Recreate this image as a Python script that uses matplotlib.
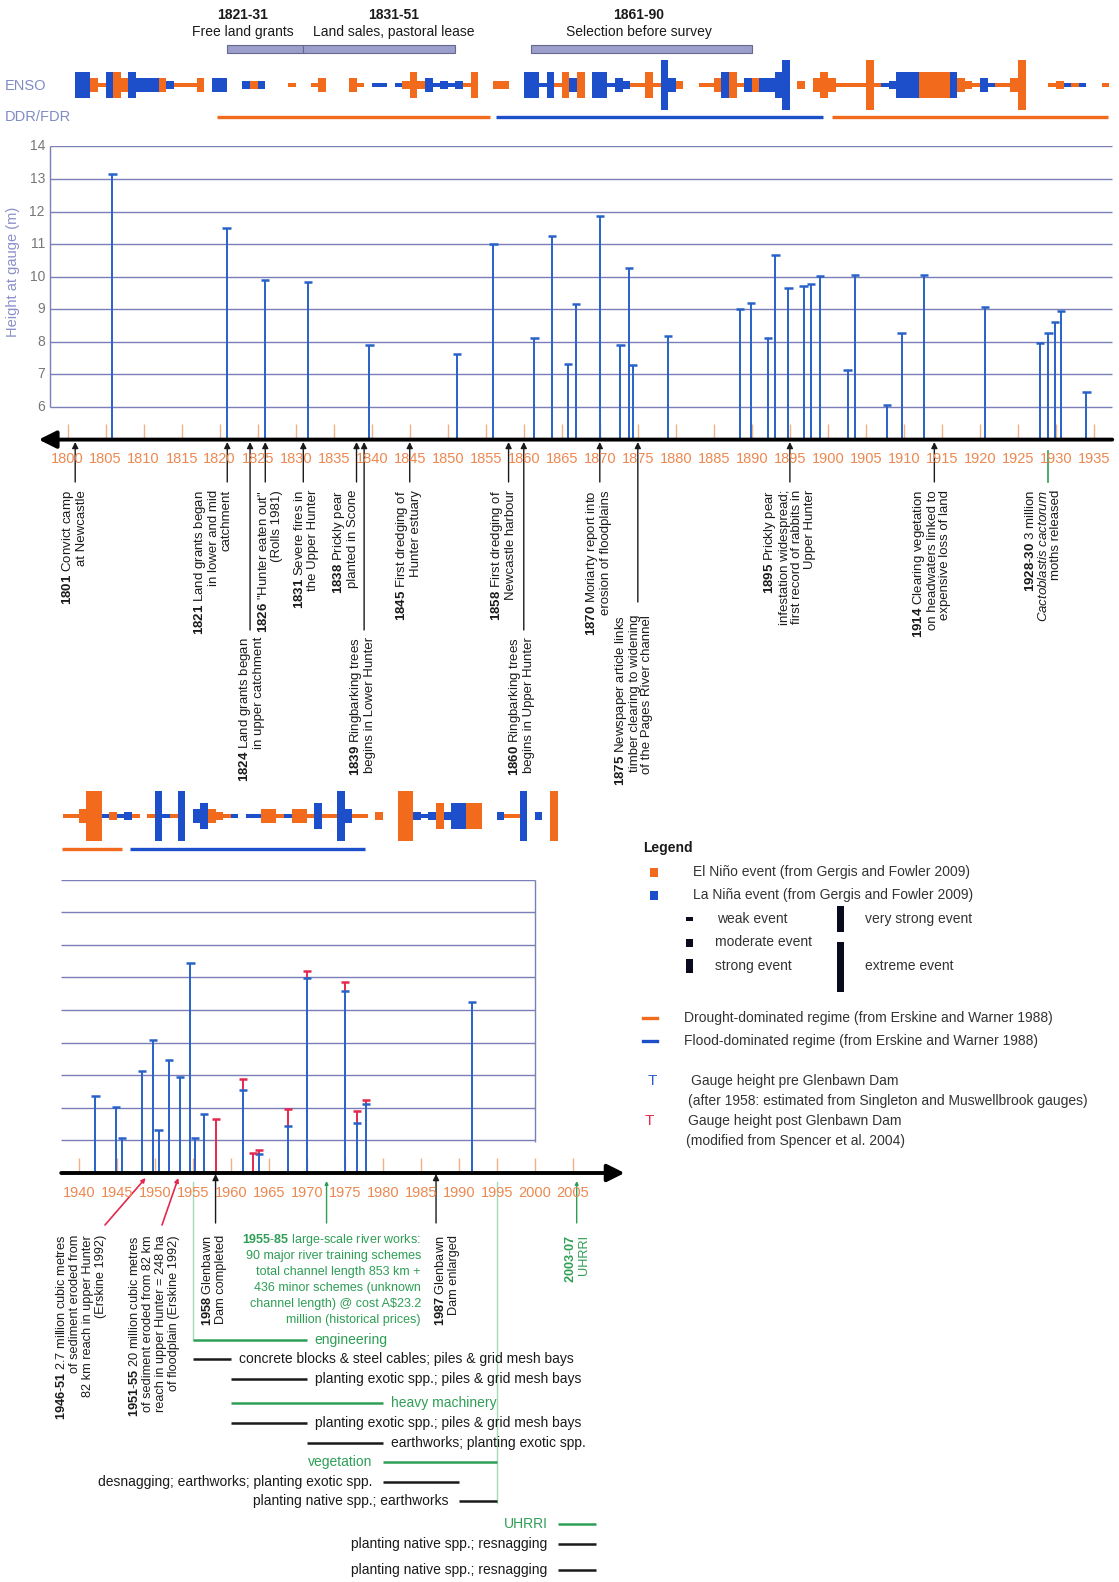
import numpy as np
import matplotlib
matplotlib.use('Agg')
import matplotlib.pyplot as plt
import matplotlib.transforms as mtransforms
from matplotlib.patches import Rectangle

plt.rcParams['font.family'] = ['Liberation Sans', 'DejaVu Sans']
plt.rcParams['mathtext.fontset'] = 'custom'
plt.rcParams['mathtext.rm'] = 'Liberation Sans'
plt.rcParams['mathtext.bf'] = 'Liberation Sans:bold'
plt.rcParams['mathtext.it'] = 'Liberation Sans:italic'

# ---------------- data ----------------
# ENSO events 1800-1937 (E = El Nino, L = La Nina; 1 weak .. 5 extreme)
enso_top_years = [1801, 1802, 1803, 1804, 1805, 1806, 1807, 1808, 1809, 1810, 1811, 1812, 1813,
                  1814, 1815, 1816, 1817, 1819, 1820, 1823, 1824, 1825, 1829, 1832, 1833, 1837,
                  1838, 1840, 1841, 1843, 1844, 1845, 1846, 1847, 1848, 1849, 1850, 1851, 1852,
                  1853, 1856, 1857, 1860, 1861, 1862, 1863, 1864, 1865, 1866, 1867, 1869, 1870,
                  1871, 1872, 1873, 1874, 1875, 1876, 1877, 1878, 1879, 1880, 1883, 1884, 1885,
                  1886, 1887, 1888, 1889, 1890, 1891, 1892, 1893, 1894, 1896, 1898, 1899, 1900,
                  1901, 1902, 1903, 1904, 1905, 1906, 1907, 1908, 1909, 1910, 1911, 1912, 1913,
                  1914, 1915, 1916, 1917, 1918, 1919, 1920, 1921, 1922, 1923, 1924, 1925, 1929,
                  1930, 1931, 1932, 1933, 1936]
enso_top_phase = list('LLEELEELLLLEL'
                      'EEEELLLELEEEE'
                      'ELLLEEELLLLLE'
                      'EEELLLLEELELL'
                      'LLLEEEELLEEEE'
                      'LEELELLLLEEEE'
                      'EEEEEELLLLLEE'
                      'EELEEELLEEEEE'
                      'ELELE')
enso_top_strength = [4, 4, 3, 1, 4, 4, 3, 4, 3, 3, 3, 3, 2,
                     1, 1, 1, 3, 3, 3, 2, 2, 2, 1, 1, 3, 3,
                     1, 1, 1, 1, 2, 4, 2, 3, 1, 2, 1, 2, 1,
                     4, 2, 2, 4, 4, 1, 4, 1, 4, 3, 4, 4, 4,
                     1, 3, 2, 1, 1, 4, 1, 5, 3, 2, 1, 1, 3,
                     4, 4, 1, 3, 3, 3, 3, 4, 5, 2, 3, 4, 3,
                     1, 1, 1, 1, 5, 1, 1, 2, 4, 4, 4, 4, 4,
                     4, 4, 4, 3, 2, 1, 3, 1, 1, 1, 3, 5, 1,
                     2, 1, 1, 1, 1]

# ENSO events 1938-2002
enso_bot_years = [1938, 1939, 1940, 1941, 1942, 1943, 1944, 1945, 1946, 1947, 1949, 1950, 1951,
                  1952, 1953, 1955, 1956, 1957, 1958, 1959, 1960, 1962, 1963, 1964, 1965, 1966,
                  1967, 1968, 1969, 1970, 1971, 1972, 1973, 1974, 1975, 1976, 1977, 1979, 1982,
                  1983, 1984, 1985, 1986, 1987, 1988, 1989, 1990, 1991, 1992, 1995, 1996, 1997,
                  1998, 2000, 2002]
enso_bot_phase = list('EEEEELELLEELL'
                      'ELLLEEELLLEEE'
                      'LEEELEELLEEEE'
                      'ELLLELLLEELEE'
                      'LLE')
enso_bot_strength = [1, 1, 3, 5, 5, 1, 2, 1, 2, 1, 1, 5, 1,
                     1, 5, 3, 4, 3, 2, 1, 1, 1, 1, 3, 3, 1,
                     1, 3, 3, 1, 4, 1, 1, 5, 3, 1, 1, 2, 5,
                     5, 2, 1, 2, 4, 2, 4, 4, 4, 4, 2, 1, 1,
                     5, 2, 5]

# drought (D) / flood (F) dominated regimes
regime_start = [1819.6, 1856.3, 1900.5, 1937.8, 1946.7]
regime_end = [1855.6, 1899.4, 1936.9, 1945.7, 1977.7]
regime_type = ['D', 'F', 'D', 'D', 'F']

# land settlement periods
period_start = [1821, 1831, 1861]
period_end = [1831, 1851, 1890]
period_years = ['1821-31', '1831-51', '1861-90']
period_names = ['Free land grants', 'Land sales, pastoral lease', 'Selection before survey']

# flood peaks, height at gauge (m)
flood_top_year = [1805.9, 1820.9, 1826.0, 1831.6, 1839.7, 1851.2, 1856.0, 1861.4, 1863.7,
                  1865.8, 1866.9, 1870.0, 1872.7, 1873.8, 1874.3, 1879.0, 1888.4, 1889.9,
                  1892.1, 1893.1, 1894.8, 1896.8, 1897.8, 1899.0, 1902.6, 1903.6, 1907.8,
                  1909.7, 1912.6, 1920.7, 1927.9, 1929.0, 1929.9, 1930.7, 1934.0]
flood_top_height = [13.15, 11.49, 9.89, 9.84, 7.89, 7.63, 11.0, 8.12, 11.25,
                    7.32, 9.17, 11.86, 7.9, 10.27, 7.28, 8.17, 9.02, 9.19,
                    8.13, 10.68, 9.64, 9.72, 9.79, 10.02, 7.14, 10.04, 6.07,
                    8.28, 10.04, 9.08, 7.98, 8.27, 8.61, 8.96, 6.46]

flood_pre_year = [1942.2, 1944.9, 1945.7, 1948.3, 1949.8, 1950.5, 1951.9, 1953.3, 1954.7,
                  1955.3, 1956.5, 1961.6, 1963.7, 1967.5, 1970.0, 1975.0, 1976.6, 1977.8, 1991.7]
flood_pre_height = [7.36, 7.02, 6.08, 8.12, 9.09, 6.31, 8.46, 7.94, 11.45,
                    6.06, 6.8, 7.56, 5.59, 6.44, 10.98, 10.59, 6.54, 7.12, 10.25]
flood_post_year = [1958.1, 1961.6, 1962.9, 1963.7, 1967.5, 1970.0, 1975.0, 1976.6, 1977.8]
flood_post_height = [6.65, 7.87, 5.6, 5.72, 6.97, 11.19, 10.86, 6.9, 7.23]

# shaded spans on the lower time axis
span_start = [1946, 1951, 1955, 1985, 2003]
span_end = [1951, 1955, 1985, 1995, 2008]
span_kind = ['erosion', 'erosion', 'works', 'works_late', 'works']

# river works programmes
works_start = [1955, 1955, 1960, 1960, 1960, 1970, 1980, 1980, 1990, 2003, 2003, 2003]
works_end = [1970, 1960, 1970, 1980, 1970, 1980, 1995, 1990, 1995, 2008, 2008, 2008]
works_label = ['engineering', 'concrete blocks & steel cables; piles & grid mesh bays',
               'planting exotic spp.; piles & grid mesh bays', 'heavy machinery',
               'planting exotic spp.; piles & grid mesh bays', 'earthworks; planting exotic spp.',
               'vegetation', 'desnagging; earthworks; planting exotic spp.',
               'planting native spp.; earthworks', 'UHRRI',
               'planting native spp.; resnagging', 'planting native spp.; resnagging']
works_is_group = [1, 0, 0, 1, 0, 0, 1, 0, 0, 1, 0, 0]

top_year_labels = list(range(1800, 1936, 5))
bot_year_labels = list(range(1940, 2006, 5))
height_ticks = list(range(6, 15))

# ---------------- styling ----------------
EL = '#f26a1b'
LA = '#1d4fcb'
STEM = '#2862c8'
RED = '#e4284e'
GRID = '#7b7fb8'
TICK = '#f2b184'
YEARC = '#ec8850'
GREEN = '#2e9e55'
LABC = '#7f8cc4'
TXT = '#1a1a1a'
enso_size = {1: 3.5, 2: 8, 3: 14, 4: 26, 5: 50}

W, H = 1119, 1582
fig = plt.figure(figsize=(W / 100, H / 100), dpi=100)

ov = fig.add_axes([0, 0, 1, 1])
ov.set_xlim(0, W)
ov.set_ylim(H, 0)
ov.axis('off')


def px_axes(top, bottom, xlim, ylim):
    ax = fig.add_axes([0, 1 - bottom / H, 1, (bottom - top) / H])
    ax.set_xlim(*xlim)
    ax.set_ylim(*ylim)
    ax.axis('off')
    return ax


PPY = 7.603
xlim_top = (1800 - 67.6 / PPY, 1800 + (W - 67.6) / PPY)
xlim_bot = (1940 - 78.7 / PPY, 1940 + (W - 78.7) / PPY)

ax_et = px_axes(0, 135, xlim_top, (135, 0))
axt = px_axes(146.4, 439.6, xlim_top, (5, 14))
ax_eb = px_axes(760, 870, xlim_bot, (870, 760))
axb = px_axes(879.6, 1173, xlim_bot, (5, 14))

blend_t = mtransforms.blended_transform_factory(axt.transData, ov.transData)
blend_b = mtransforms.blended_transform_factory(axb.transData, ov.transData)


def draw_enso(ax, years, phases, strength, yc):
    hh = np.array([enso_size[s] for s in strength])
    cols = [EL if p == 'E' else LA for p in phases]
    ax.bar(years, hh, width=1.0, bottom=yc - hh / 2, align='edge', color=cols, linewidth=0)


# ---- top: ENSO band, regimes, settlement periods ----
draw_enso(ax_et, enso_top_years, enso_top_phase, enso_top_strength, 85)
draw_enso(ax_eb, enso_bot_years, enso_bot_phase, enso_bot_strength, 816)

reg_cols = [EL if t == 'D' else LA for t in regime_type]
ax_et.hlines([117] * 3, regime_start[:3], regime_end[:3], colors=reg_cols[:3], lw=2.4)
ax_eb.hlines([849] * 2, regime_start[3:], regime_end[3:], colors=reg_cols[3:], lw=2.4)

ax_et.barh([49] * 3, np.array(period_end) - np.array(period_start), left=period_start,
           height=8, color='#9c9ecb', edgecolor='#67688f', lw=0.8)
hdr_x = [243, 394, 639]
for x, yrs, name in zip(hdr_x, period_years, period_names):
    ov.text(x, 15, yrs, ha='center', va='center', fontsize=10, fontweight='bold', color=TXT)
    ov.text(x, 32, name, ha='center', va='center', fontsize=10, color=TXT)

ov.text(5, 86, 'ENSO', ha='left', va='center', fontsize=10.5, color=LABC)
ov.text(5, 117, 'DDR/FDR', ha='left', va='center', fontsize=10.5, color=LABC)

# ---- top chart ----
axt.hlines(height_ticks, 1797.7, 1937.4, color=GRID, lw=1.0, zorder=1)
axt.vlines(1797.7, 6, 14, color=GRID, lw=1.0, zorder=1)
axt.vlines(top_year_labels, 5, 5.48, color=TICK, lw=1.0, zorder=1)
axt.vlines(flood_top_year, 5, flood_top_height, color=STEM, lw=1.4, zorder=3)
axt.hlines(flood_top_height, np.array(flood_top_year) - 0.55, np.array(flood_top_year) + 0.55,
           color=STEM, lw=1.8, zorder=3)
axt.bar(1928, 0.31, width=2, bottom=4.69, align='edge', color='#5cc18b',
        edgecolor='#3a9d63', lw=0.8, zorder=2)
axt.annotate('', xy=(1796.2, 5), xytext=(1937.4, 5), annotation_clip=False,
             arrowprops=dict(arrowstyle='-|>,head_length=0.7,head_width=0.35', lw=2.8,
                             color='k', shrinkA=0, shrinkB=0, mutation_scale=15), zorder=5)
for yr in top_year_labels:
    axt.text(yr, 4.405, str(yr), ha='center', va='center', fontsize=10.5, color=YEARC)
blend_yt = mtransforms.blended_transform_factory(ov.transData, axt.transData)
for v in height_ticks:
    axt.text(45, v, str(v), transform=blend_yt, ha='right', va='center', fontsize=10, color='#777777')
ov.text(13, 272, 'Height at gauge (m)', rotation=90, ha='center', va='center',
        fontsize=10.5, color='#8a90c8')

# event annotations along the top axis
ann_year = [1801, 1821, 1824, 1826, 1831, 1838, 1839, 1845, 1858, 1860, 1870, 1875, 1895, 1914]
ann_end = [482, 482, 630, 482, 482, 482, 630, 482, 482, 630, 482, 602, 482, 482]
ann_tx = [74, 212, 251, 270, 306, 345, 362, 408, 503, 521, 598, 633, 789, 931]
ann_ty = [490, 490, 637, 490, 490, 490, 637, 490, 490, 637, 490, 615, 490, 490]
ann_text = [r'$\mathbf{1801}$ Convict camp' + '\nat Newcastle',
            r'$\mathbf{1821}$ Land grants began' + '\nin lower and mid\ncatchment',
            r'$\mathbf{1824}$ Land grants began' + '\nin upper catchment',
            r'$\mathbf{1826}$ "Hunter eaten out"' + '\n(Rolls 1981)',
            r'$\mathbf{1831}$ Severe fires in' + '\nthe Upper Hunter',
            r'$\mathbf{1838}$ Prickly pear' + '\nplanted in Scone',
            r'$\mathbf{1839}$ Ringbarking trees' + '\nbegins in Lower Hunter',
            r'$\mathbf{1845}$ First dredging of' + '\nHunter estuary',
            r'$\mathbf{1858}$ First dredging of' + '\nNewcastle harbour',
            r'$\mathbf{1860}$ Ringbarking trees' + '\nbegins in Upper Hunter',
            r'$\mathbf{1870}$ Moriarty report into' + '\nerosion of floodplains',
            r'$\mathbf{1875}$ Newspaper article links' + '\ntimber clearing to widening\nof the Pages River channel',
            r'$\mathbf{1895}$ Prickly pear' + '\ninfestation widespread;\nfirst record of rabbits in\nUpper Hunter',
            r'$\mathbf{1914}$ Clearing vegetation' + '\non headwaters linked to\nexpensive loss of land']
for yr, ye, tx, ty, s in zip(ann_year, ann_end, ann_tx, ann_ty, ann_text):
    ov.annotate('', xy=(yr, 442), xycoords=blend_t, xytext=(yr, ye), textcoords=blend_t,
                arrowprops=dict(arrowstyle='-|>', color=TXT, lw=1.0, mutation_scale=9,
                                shrinkA=0, shrinkB=0))
    ov.text(tx, ty, s, rotation=90, ha='center', va='top', multialignment='right',
            fontsize=9.5, color=TXT, linespacing=1.05)
ov.plot([1929, 1929], [451, 482], transform=blend_t, color=GREEN, lw=1.2)
ov.text(1043, 490, r'$\mathbf{1928}$-$\mathbf{30}$ 3 million' + '\n' +
        r'$\mathit{Cactoblastis}$ $\mathit{cactorum}$' + '\nmoths released',
        rotation=90, ha='center', va='top', multialignment='right', fontsize=9.5,
        color=TXT, linespacing=1.05)

# ---- bottom chart ----
axb.hlines(height_ticks, 1937.7, 2000, color=GRID, lw=1.0, zorder=1)
axb.vlines(2000, 5.95, 14, color=GRID, lw=1.0, zorder=1)
axb.vlines(bot_year_labels, 5, 5.46, color=TICK, lw=1.0, zorder=1)
span_col = {'erosion': '#f0506e', 'works': '#5cc18b', 'works_late': '#b8e6c9'}
span_edge = {'erosion': '#d02c4c', 'works': '#3a9d63', 'works_late': '#9fd4b3'}
for s0, s1, k in zip(span_start, span_end, span_kind):
    axb.bar(s0, 0.28, width=s1 - s0, bottom=4.72, align='edge', color=span_col[k],
            edgecolor=span_edge[k], lw=0.8, zorder=2)
axb.vlines(flood_pre_year, 5, flood_pre_height, color=STEM, lw=1.4, zorder=3)
axb.hlines(flood_pre_height, np.array(flood_pre_year) - 0.55, np.array(flood_pre_year) + 0.55,
           color=STEM, lw=1.8, zorder=4)
pre_lookup = dict(zip(flood_pre_year, flood_pre_height))
post_base = [pre_lookup.get(x, 5) for x in flood_post_year]
axb.vlines(flood_post_year, post_base, flood_post_height, color=RED, lw=1.4, zorder=3)
axb.hlines(flood_post_height, np.array(flood_post_year) - 0.55, np.array(flood_post_year) + 0.55,
           color=RED, lw=1.8, zorder=4)
axb.annotate('', xy=(2011.8, 5), xytext=(1937.7, 5), annotation_clip=False,
             arrowprops=dict(arrowstyle='-|>,head_length=0.7,head_width=0.35', lw=2.8,
                             color='k', shrinkA=0, shrinkB=0, mutation_scale=15), zorder=5)
for yr in bot_year_labels:
    axb.text(yr, 4.39, str(yr), ha='center', va='center', fontsize=10.5, color=YEARC)

# pointers below the lower axis
for yr in [1958, 1987]:
    ov.annotate('', xy=(yr, 1174), xycoords=blend_b, xytext=(yr, 1223), textcoords=blend_b,
                arrowprops=dict(arrowstyle='-|>', color=TXT, lw=1.0, mutation_scale=9,
                                shrinkA=0, shrinkB=0))
for yr in [1972.6, 2005.5]:
    ov.annotate('', xy=(yr, 1181), xycoords=blend_b, xytext=(yr, 1223), textcoords=blend_b,
                arrowprops=dict(arrowstyle='-|>', color=GREEN, lw=1.0, mutation_scale=5,
                                shrinkA=0, shrinkB=0))
for yr, tx in [(1948.8, 105), (1953.1, 162)]:
    ov.annotate('', xy=(yr, 1178), xycoords=blend_b, xytext=(tx, 1225), textcoords=ov.transData,
                arrowprops=dict(arrowstyle='-|>', color=RED, lw=1.2, mutation_scale=6,
                                shrinkA=0, shrinkB=0))
ov.plot([1955, 1955], [1182, 1340], transform=blend_b, color='#a4dab8', lw=1.0)
ov.plot([1995, 1995], [1182, 1503], transform=blend_b, color='#a4dab8', lw=1.0)

bot_ann = [(81, r'$\mathbf{1946}$-$\mathbf{51}$ 2.7 million cubic metres' +
            '\nof sediment eroded from\n82 km reach in upper Hunter\n(Erskine 1992)', TXT),
           (154, r'$\mathbf{1951}$-$\mathbf{55}$ 20 million cubic metres' +
            '\nof sediment eroded from 82 km\nreach in upper Hunter = 248 ha\nof floodplain (Erskine 1992)', TXT),
           (214, r'$\mathbf{1958}$ Glenbawn' + '\nDam completed', TXT),
           (447, r'$\mathbf{1987}$ Glenbawn' + '\nDam enlarged', TXT),
           (577, r'$\mathbf{2003}$-$\mathbf{07}$' + '\nUHRRI', GREEN)]
for tx, s, c in bot_ann:
    ov.text(tx, 1235, s, rotation=90, ha='center', va='top', multialignment='right',
            fontsize=9.2, color=c, linespacing=1.12)

works_txt = [r'$\mathbf{1955}$-$\mathbf{85}$ large-scale river works:',
             '90 major river training schemes', 'total channel length 853 km +',
             '436 minor schemes (unknown', 'channel length) @ cost A$23.2',
             'million (historical prices)']
for i, s in enumerate(works_txt):
    ov.text(421, 1240 + i * 16, s, ha='right', va='center', fontsize=9, color=GREEN)

works_y = [1340, 1359, 1379, 1403, 1423, 1443, 1462, 1482, 1501, 1524, 1544, 1570]
for i, (s0, s1, lab, g, y) in enumerate(zip(works_start, works_end, works_label,
                                              works_is_group, works_y)):
    c = GREEN if g else TXT
    ov.plot([s0, s1], [y, y], transform=blend_b, color=c, lw=1.8, solid_capstyle='butt')
    if i < 6:
        x_end = axb.transData.transform((s1, 0))[0]
        ov.text(x_end + 8, y, lab, ha='left', va='center', fontsize=10, color=c)
    else:
        x_start = axb.transData.transform((s0, 0))[0]
        ov.text(x_start - 10, y, lab, ha='right', va='center', fontsize=10, color=c)

# ---- legend ----
LTX = '#333333'
ov.text(643, 848, 'Legend', ha='left', va='center', fontsize=10, fontweight='bold', color=TXT)
ov.add_patch(Rectangle((650, 868), 8, 9, color=EL, lw=0))
ov.add_patch(Rectangle((650, 891), 8, 9, color=LA, lw=0))
ov.text(693, 872, 'El Niño event (from Gergis and Fowler 2009)', va='center', fontsize=10, color=LTX)
ov.text(693, 895, 'La Niña event (from Gergis and Fowler 2009)', va='center', fontsize=10, color=LTX)
lg_x = [686, 686, 686, 837, 837]
lg_y = [919, 942.5, 966, 919, 966.5]
lg_txt = ['weak event', 'moderate event', 'strong event', 'very strong event', 'extreme event']
lg_tx = [717, 715, 715, 865, 865]
for s, x, y, t, tx in zip([1, 2, 3, 4, 5], lg_x, lg_y, lg_txt, lg_tx):
    h = enso_size[s]
    ov.add_patch(Rectangle((x, y - h / 2), 7, h, color='#0a0a1e', lw=0))
    ov.text(tx, y if s < 5 else 966, t, va='center', fontsize=10, color=LTX)
ov.plot([643, 657], [1018, 1018], color=EL, lw=2.4)
ov.plot([643, 657], [1041, 1041], color=LA, lw=2.4)
ov.text(684, 1018, 'Drought-dominated regime (from Erskine and Warner 1988)', va='center',
        fontsize=10, color=LTX)
ov.text(684, 1041, 'Flood-dominated regime (from Erskine and Warner 1988)', va='center',
        fontsize=10, color=LTX)
ov.text(652, 1081, 'T', ha='center', va='center', fontsize=11, color=STEM)
ov.text(649, 1121, 'T', ha='center', va='center', fontsize=11, color=RED)
ov.text(691, 1081, 'Gauge height pre Glenbawn Dam', va='center', fontsize=10, color=LTX)
ov.text(688, 1101, '(after 1958: estimated from Singleton and Muswellbrook gauges)', va='center',
        fontsize=10, color=LTX)
ov.text(688, 1121, 'Gauge height post Glenbawn Dam', va='center', fontsize=10, color=LTX)
ov.text(686, 1141, '(modified from Spencer et al. 2004)', va='center', fontsize=10, color=LTX)

fig.savefig('out.png', dpi=100)
